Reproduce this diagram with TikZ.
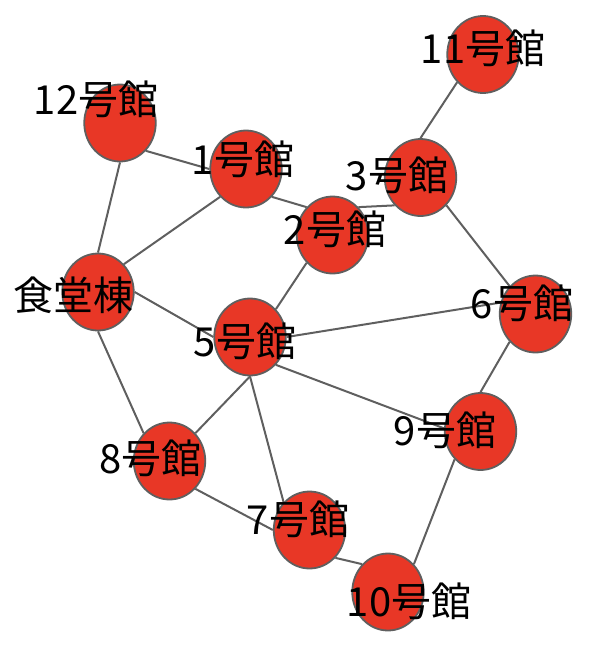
\documentclass[tikz,border=0pt]{standalone}
\usepackage{fontspec}
\newfontfamily\jpfont{Noto Sans CJK JP}
\usetikzlibrary{shapes.geometric,backgrounds}
\definecolor{bred}{RGB}{232,55,38}
\definecolor{roadgray}{RGB}{95,95,95}

\begin{document}
\begin{tikzpicture}[x=1pt,y=-1pt,bldg/.style={draw=roadgray,fill=bred,ellipse,minimum
width=71.5pt,minimum height=77pt,inner sep=0pt,line width=1.8pt},lbl/.style={font=\jpfont\fontsize{40}{40}\selectfont,
inner sep=0pt,text=black},road/.style={draw=roadgray,line width=2pt}]
\useasboundingbox (0,0) rectangle (606,656);
% buildings
\node[bldg] (b11) at (483,54.5) {};
\node[bldg] (b12) at (120,123) {};
\node[bldg] (b1) at (246,169) {};
\node[bldg] (b3) at (420.5,177.5) {};
\node[bldg] (b2) at (332.5,235) {};
\node[bldg] (bS) at (98,292) {};
\node[bldg] (b6) at (535.5,314) {};
\node[bldg] (b5) at (250,337) {};
\node[bldg] (b9) at (480.5,431.5) {};
\node[bldg] (b8) at (169.5,461) {};
\node[bldg] (b7) at (309.5,530) {};
\node[bldg] (b10) at (388,592) {};
% labels
\node[lbl] (t11) at (483,48) {11号館};
\node[lbl] (t12) at (96,99) {12号館};
\node[lbl] (t1) at (243,159) {1号館};
\node[lbl] (t3) at (397,175) {3号館};
\node[lbl] (t2) at (335,229) {2号館};
\node[lbl] (tS) at (73,295) {食堂棟};
\node[lbl] (t6) at (522,303) {6号館};
\node[lbl] (t5) at (245,341) {5号館};
\node[lbl] (t9) at (445,430) {9号館};
\node[lbl] (t8) at (150.5,458) {8号館};
\node[lbl] (t7) at (298,519.5) {7号館};
\node[lbl] (t10) at (409,601) {10号館};
% roads
\begin{scope}[on background layer]
\draw[road] (b11.south west) -- (b3.north);
\draw[road] (b12.south east) -- (b1.west);
\draw[road] (b12.south) -- (bS.north);
\draw[road] (b1.south west) -- (bS.north east);
\draw[road] (b1.south east) -- (b2.north west);
\draw[road] (b2.north east) -- (b3.south west);
\draw[road] (b2.south west) -- (b5.north east);
\draw[road] (b3.south east) -- (b6.north west);
\draw[road] (bS.east) -- (b5.west);
\draw[road] (bS.south) -- (b8.north west);
\draw[road] (b5.east) -- (b6.162);
\draw[road] (b5.south) -- (b8.north east);
\draw[road] (b5.south) -- (b7.north west);
\draw[road] (b5.south east) -- (b9.175);
\draw[road] (b6.south west) -- (b9.north);
\draw[road] (b8.south east) -- (b7.west);
\draw[road] (b7.south east) -- (b10.north west);
\draw[road] (b9.south west) -- (b10.north east);
\end{scope}
\end{tikzpicture}
\end{document}
